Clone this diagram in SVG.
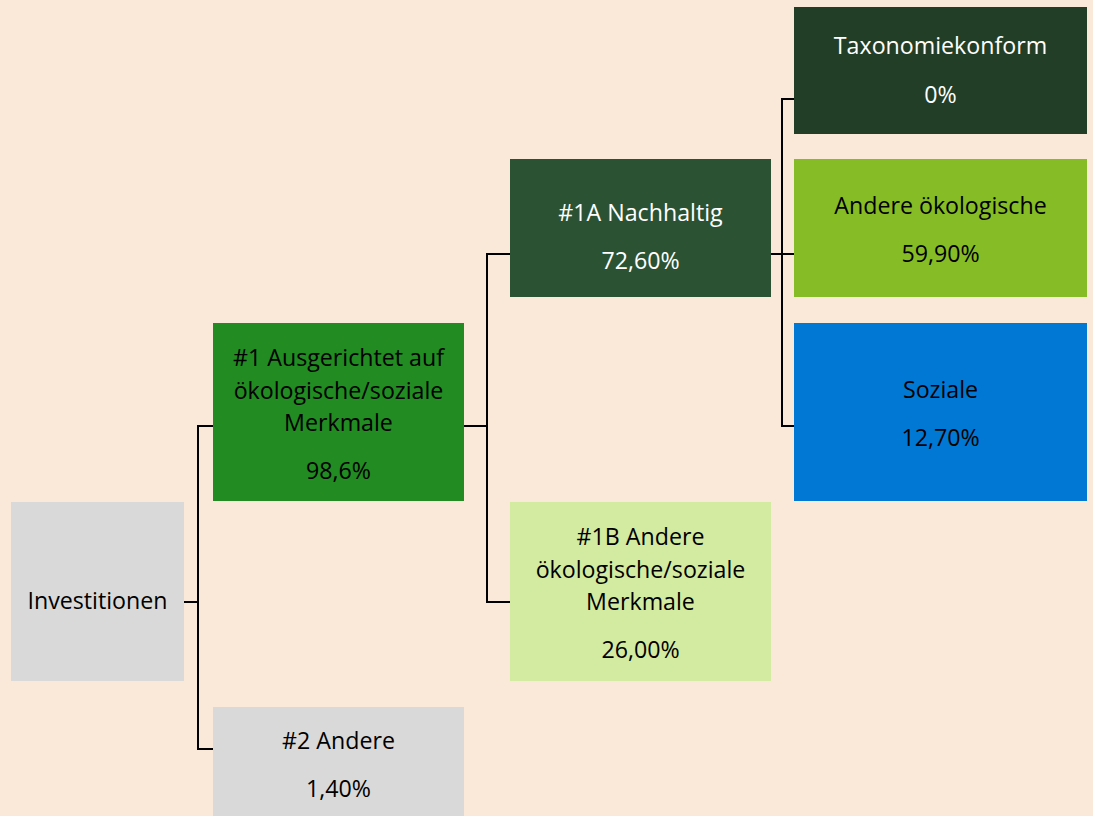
<svg xmlns="http://www.w3.org/2000/svg" width="1093" height="816" viewBox="0 0 1093 816">
<style>
  text { font-family: "Open Sans", "Liberation Sans", sans-serif; font-size: 23.2px; text-anchor: middle; }
  .dk { fill: #000000; }
  .lt { fill: #ffffff; }
  .conn { fill: none; stroke: #000000; stroke-width: 2; }
</style>
<rect x="0" y="0" width="1093" height="816" fill="#FAE8D8"/>
<g id="connectors">
  <path class="conn" d="M184,602 H198 M213,426 H198 V749 H213"/>
  <path class="conn" d="M464,426 H487 M510,254 H487 V602 H510"/>
  <path class="conn" d="M771,254 H794 M794,99 H782 V426 H794"/>
</g>
<g id="investitionen">
  <rect x="11" y="502" width="173" height="179" fill="#D9D9D9"/>
  <text class="dk" x="97.5" y="609">Investitionen</text>
</g>
<g id="n1">
  <rect x="213" y="323" width="251" height="178" fill="#228B22"/>
  <text class="dk" x="338.5" y="366">#1 Ausgerichtet auf</text>
  <text class="dk" x="338.5" y="399">ökologische/soziale</text>
  <text class="dk" x="338.5" y="431">Merkmale</text>
  <text class="dk" x="338.5" y="479">98,6%</text>
</g>
<g id="n2">
  <rect x="213" y="707" width="251" height="109" fill="#D9D9D9"/>
  <text class="dk" x="338.5" y="749">#2 Andere</text>
  <text class="dk" x="338.5" y="797">1,40%</text>
</g>
<g id="n1a">
  <rect x="510" y="159" width="261" height="138" fill="#2C5234"/>
  <text class="lt" x="640.5" y="221">#1A Nachhaltig</text>
  <text class="lt" x="640.5" y="269">72,60%</text>
</g>
<g id="n1b">
  <rect x="510" y="502" width="261" height="179" fill="#D3EBA0"/>
  <text class="dk" x="640.5" y="545">#1B Andere</text>
  <text class="dk" x="640.5" y="578">ökologische/soziale</text>
  <text class="dk" x="640.5" y="610">Merkmale</text>
  <text class="dk" x="640.5" y="658">26,00%</text>
</g>
<g id="taxonomie">
  <rect x="794" y="7" width="293" height="127" fill="#233E26"/>
  <text class="lt" x="940.5" y="54">Taxonomiekonform</text>
  <text class="lt" x="940.5" y="103">0%</text>
</g>
<g id="andere-oeko">
  <rect x="794" y="159" width="293" height="138" fill="#86BC25"/>
  <text class="dk" x="940.5" y="214">Andere ökologische</text>
  <text class="dk" x="940.5" y="262">59,90%</text>
</g>
<g id="soziale">
  <rect x="794" y="323" width="293" height="178" fill="#0078D4"/>
  <text class="dk" x="940.5" y="398">Soziale</text>
  <text class="dk" x="940.5" y="446">12,70%</text>
</g>
</svg>
